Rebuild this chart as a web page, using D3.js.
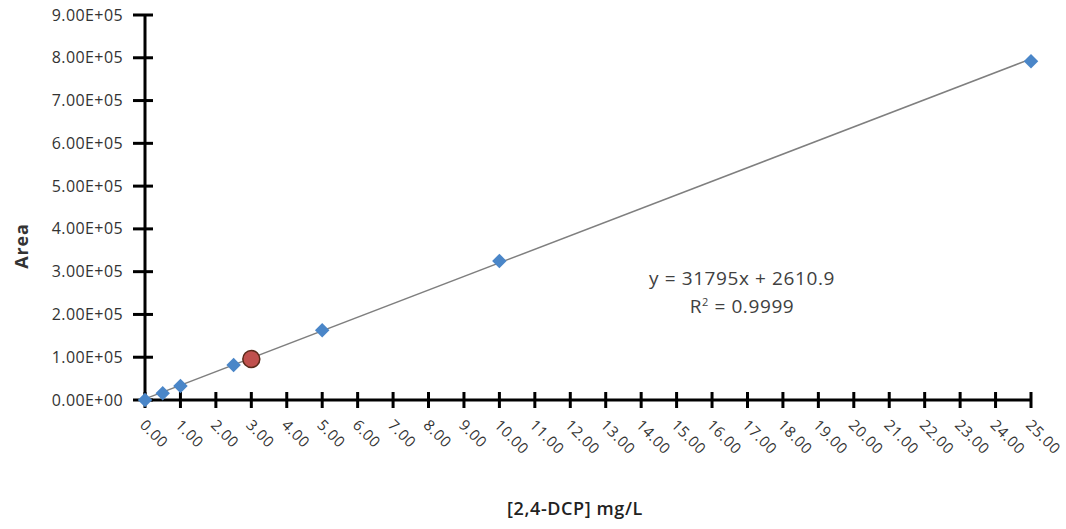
<!DOCTYPE html>
<html>
<head>
<meta charset="utf-8">
<script src="https://cdn.jsdelivr.net/npm/d3@7"></script>
<style>
  body { margin: 0; background: #fff; }
  text { font-family: "Open Sans", "Noto Sans", sans-serif; }
</style>
</head>
<body>
<div id="chart"></div>
<script>
// calibration standards
var conc = [0, 0.5, 1, 2.5, 5, 10, 25];
var area = [0, 16000, 33000, 82000, 163000, 325000, 792000];
// sample
var sample_conc = [3];
var sample_area = [96000];
// linear fit
var slope = 31795;
var intercept = 2610.9;
var y_ticks = [0, 1e5, 2e5, 3e5, 4e5, 5e5, 6e5, 7e5, 8e5, 9e5];
var x_ticks = d3.range(0, 26);

var chart_width = 1066;
var chart_height = 529;
var svg = d3.select('#chart')
    .append('svg')
    .attr('width', chart_width)
    .attr('height', chart_height)

var x_scale = d3.scaleLinear()
    .domain([0, 25])
    .range([145, 1031])

var y_scale = d3.scaleLinear()
    .domain([0, 9e5])
    .range([400, 15])

// y axis
var y_axis = svg.append('g')
y_axis.append('line')
    .attr('x1', x_scale(0)).attr('x2', x_scale(0))
    .attr('y1', y_scale(9e5)).attr('y2', y_scale(0))
    .attr('stroke', '#000').attr('stroke-width', 3)
y_axis.selectAll('.ytick')
    .data(y_ticks)
    .enter()
    .append('line')
    .attr('x1', x_scale(0) - 12).attr('x2', x_scale(0) + 8)
    .attr('y1', function (d) { return y_scale(d); })
    .attr('y2', function (d) { return y_scale(d); })
    .attr('stroke', '#000').attr('stroke-width', 3)
y_axis.selectAll('.ylab')
    .data(y_ticks)
    .enter()
    .append('text')
    .text(function (d) {
        var e = d === 0 ? 0 : Math.floor(Math.log10(d));
        var m = d / Math.pow(10, e);
        return m.toFixed(2) + 'E' + (e === 0 ? '+00' : '+0' + e);
    })
    .attr('x', 123)
    .attr('y', function (d) { return y_scale(d); })
    .attr('dy', '0.35em')
    .attr('text-anchor', 'end')
    .attr('font-size', 16)
    .attr('letter-spacing', 0.4)
    .attr('fill', '#333')

// x axis
var x_axis = svg.append('g')
x_axis.append('line')
    .attr('x1', x_scale(0)).attr('x2', x_scale(25))
    .attr('y1', y_scale(0)).attr('y2', y_scale(0))
    .attr('stroke', '#000').attr('stroke-width', 3)
x_axis.selectAll('.xtick')
    .data(x_ticks)
    .enter()
    .append('line')
    .attr('x1', function (d) { return x_scale(d); })
    .attr('x2', function (d) { return x_scale(d); })
    .attr('y1', y_scale(0) - 8).attr('y2', y_scale(0) + 8)
    .attr('stroke', '#000').attr('stroke-width', 3)
x_axis.selectAll('.xlab')
    .data(x_ticks)
    .enter()
    .append('text')
    .text(function (d) { return d.toFixed(2); })
    .attr('transform', function (d) {
        return 'translate(' + (x_scale(d) - 6) + ',' + (y_scale(0) + 26) + ') rotate(45)';
    })
    .attr('font-size', 15)
    .attr('letter-spacing', 0.6)
    .attr('fill', '#333')

// trend line
svg.append('line')
    .attr('x1', x_scale(0)).attr('y1', y_scale(intercept))
    .attr('x2', x_scale(25)).attr('y2', y_scale(slope * 25 + intercept))
    .attr('stroke', '#7f7f7f').attr('stroke-width', 1.5)

// standards
svg.selectAll('.pt')
    .data(conc)
    .enter()
    .append('path')
    .attr('d', d3.symbol().type(d3.symbolSquare).size(105))
    .attr('transform', function (d, i) {
        return 'translate(' + x_scale(d) + ',' + y_scale(area[i]) + ') rotate(45)';
    })
    .attr('fill', '#4a86c8')

// sample
svg.selectAll('.sample')
    .data(sample_conc)
    .enter()
    .append('circle')
    .attr('cx', function (d) { return x_scale(d); })
    .attr('cy', function (d, i) { return y_scale(sample_area[i]); })
    .attr('r', 8.5)
    .attr('fill', '#c0504d')
    .attr('stroke', '#5a2a1a')
    .attr('stroke-width', 1.5)

// equation
svg.append('text')
    .text('y = ' + slope + 'x + ' + intercept)
    .attr('x', 742).attr('y', 285)
    .attr('text-anchor', 'middle')
    .attr('font-size', 19)
    .attr('letter-spacing', 0.6)
    .attr('fill', '#404040')
var r2 = svg.append('text')
    .attr('x', 742).attr('y', 313)
    .attr('text-anchor', 'middle')
    .attr('font-size', 19)
    .attr('letter-spacing', 0.6)
    .attr('fill', '#404040')
r2.append('tspan').text('R')
r2.append('tspan').text('2').attr('font-size', 11).attr('dy', -7)
r2.append('tspan').text(' = 0.9999').attr('dy', 7)

// axis titles
svg.append('text')
    .text('[2,4-DCP] mg/L')
    .attr('x', 575).attr('y', 515)
    .attr('text-anchor', 'middle')
    .attr('font-size', 18)
    .attr('font-weight', 600)
    .attr('letter-spacing', 0.6)
    .attr('fill', '#222')
svg.append('text')
    .text('Area')
    .attr('transform', 'translate(28,246) rotate(-90)')
    .attr('text-anchor', 'middle')
    .attr('font-size', 18)
    .attr('font-weight', 'bold')
    .attr('letter-spacing', 0.8)
    .attr('fill', '#333')
</script>
</body>
</html>
